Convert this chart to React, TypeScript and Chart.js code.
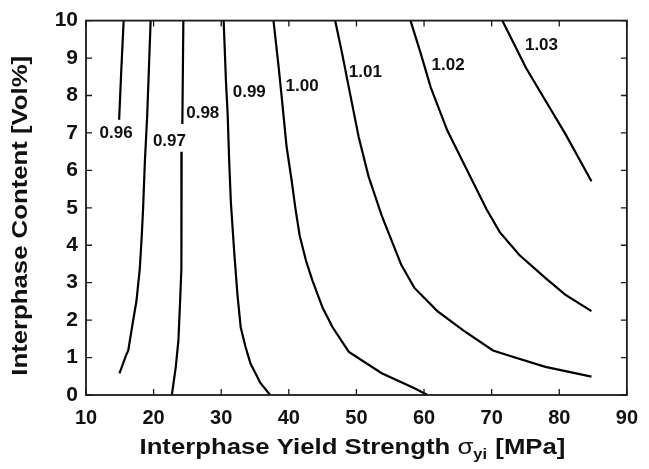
import React, { useEffect, useRef } from "react";
import { Chart, registerables } from "chart.js";

Chart.register(...registerables);

// ---- axis ticks ----
const X_TICKS = [10, 20, 30, 40, 50, 60, 70, 80, 90];
const Y_TICKS = [0, 1, 2, 3, 4, 5, 6, 7, 8, 9, 10];

// ---- contour levels and their labels ----
const LEVELS = ["0.96", "0.97", "0.98", "0.99", "1.00", "1.01", "1.02", "1.03"];
const LABEL_X = [14.46, 22.34, 27.27, 34.15, 41.97, 51.31, 63.55, 77.37];
const LABEL_Y = [6.99, 6.78, 7.52, 8.08, 8.25, 8.63, 8.8, 9.35];

// ---- contour lines (x = interphase yield strength, y = interphase content) ----
const c096x = [15.57, 15.2, 14.9];
const c096y = [10, 8.6, 7.35];

const c097x = [19.56, 19.06, 18.7, 18.45, 18.25, 17.96, 17.46, 16.88, 16.25, 15.92, 14.95];
const c097y = [10, 7.5, 6.2, 5.0, 4.26, 3.38, 2.51, 1.89, 1.19, 1.06, 0.58];

const c098x = [24.4, 24.25, null, 24.15, 24.15, 24.07, 23.92, 23.67, 23.28, 22.7];
const c098y = [10, 7.24, null, 6.5, 5.14, 3.38, 2.51, 1.46, 0.75, 0];

const c099x = [30.36, 30.7, 30.95, 31.19, 31.43, 31.92, 32.4, 32.88, 33.6, 34.33, 35.79, 37.24];
const c099y = [10, 8.38, 7.51, 6.19, 5.14, 3.82, 2.68, 1.81, 1.28, 0.84, 0.32, 0];

const c100x = [37.73, 38.46, 38.95, 39.67, 40.4, 41.0, 41.6, 42.58, 43.55, 45.0, 46.47, 48.88, 53.74, 58.58, 60.5];
const c100y = [10, 8.82, 7.95, 6.63, 5.75, 4.95, 4.26, 3.56, 3.03, 2.33, 1.81, 1.15, 0.58, 0.18, 0];

const c101x = [46.85, 47.92, 48.88, 50.33, 51.79, 53.74, 55.19, 56.65, 58.58, 61.97, 65.85, 70.2, 73.1, 77.95, 84.76];
const c101y = [10, 9.09, 8.21, 6.89, 5.84, 4.79, 4.13, 3.47, 2.86, 2.24, 1.72, 1.19, 1.02, 0.75, 0.49];

const c102x = [58.0, 59.56, 61.0, 63.43, 65.85, 69.24, 71.2, 74.1, 77.97, 80.88, 84.76];
const c102y = [10, 9.09, 8.21, 7.07, 6.19, 4.96, 4.35, 3.74, 3.12, 2.68, 2.24];

const c103x = [71.57, 73.13, 75.07, 77.97, 80.88, 84.76];
const c103y = [10, 9.44, 8.74, 7.86, 6.98, 5.71];

const CURVES: [(number | null)[], (number | null)[]][] = [
  [c096x, c096y],
  [c097x, c097y],
  [c098x, c098y],
  [c099x, c099y],
  [c100x, c100y],
  [c101x, c101y],
  [c102x, c102y],
  [c103x, c103y],
];

const X_TITLE_MAIN = "Interphase Yield Strength ";
const X_TITLE_SYM = "σ";
const X_TITLE_SUB = "yi";
const X_TITLE_END = " [MPa]";
const Y_TITLE = "Interphase Content [Vol%]";

const FONT_FAMILY = '"Liberation Sans", Arial, Helvetica, sans-serif';
const INK = "#111";

function segments(xs: (number | null)[], ys: (number | null)[]) {
  const out: { x: number; y: number }[][] = [];
  let cur: { x: number; y: number }[] = [];
  for (let i = 0; i < xs.length; i++) {
    const x = xs[i];
    const y = ys[i];
    if (x === null || y === null) {
      if (cur.length) out.push(cur);
      cur = [];
    } else {
      cur.push({ x, y });
    }
  }
  if (cur.length) out.push(cur);
  return out;
}

const decorPlugin = {
  id: "decor",
  afterDraw(chart: any) {
    const { ctx, chartArea: a, scales } = chart;
    const xs = scales.x;
    const ys = scales.y;
    ctx.save();
    // frame
    ctx.strokeStyle = "#1a1a1a";
    ctx.lineWidth = 1.8;
    ctx.strokeRect(a.left, a.top, a.right - a.left, a.bottom - a.top);
    // inward tick marks on all four sides
    ctx.lineWidth = 1.3;
    const tl = 6;
    ctx.beginPath();
    X_TICKS.forEach((v) => {
      const px = xs.getPixelForValue(v);
      ctx.moveTo(px, a.bottom);
      ctx.lineTo(px, a.bottom - tl);
      ctx.moveTo(px, a.top);
      ctx.lineTo(px, a.top + tl);
    });
    Y_TICKS.forEach((v) => {
      const py = ys.getPixelForValue(v);
      ctx.moveTo(a.left, py);
      ctx.lineTo(a.left + tl, py);
      ctx.moveTo(a.right, py);
      ctx.lineTo(a.right - tl, py);
    });
    ctx.stroke();

    // contour labels
    ctx.fillStyle = INK;
    ctx.font = `bold 17px ${FONT_FAMILY}`;
    ctx.textAlign = "center";
    ctx.textBaseline = "middle";
    LEVELS.forEach((t, i) => {
      ctx.fillText(t, xs.getPixelForValue(LABEL_X[i]), ys.getPixelForValue(LABEL_Y[i]));
    });

    // x-axis title with subscript
    const stretch = 1.17;
    const mainFont = `bold 22px ${FONT_FAMILY}`;
    const symFont = `22px ${FONT_FAMILY}`;
    const subFont = `bold 14px ${FONT_FAMILY}`;
    ctx.textAlign = "left";
    ctx.textBaseline = "alphabetic";
    ctx.font = mainFont;
    const w1 = ctx.measureText(X_TITLE_MAIN).width;
    const w4 = ctx.measureText(X_TITLE_END).width;
    ctx.font = symFont;
    const w2 = ctx.measureText(X_TITLE_SYM).width;
    ctx.font = subFont;
    const w3 = ctx.measureText(X_TITLE_SUB).width + 1;
    const total = w1 + w2 + w3 + w4;
    const cx = (a.left + a.right) / 2 - 4;
    ctx.save();
    ctx.translate(cx, 454);
    ctx.scale(stretch, 1);
    let x0 = -total / 2;
    ctx.font = mainFont;
    ctx.fillText(X_TITLE_MAIN, x0, 0);
    x0 += w1;
    ctx.font = symFont;
    ctx.fillText(X_TITLE_SYM, x0, 0);
    x0 += w2;
    ctx.font = subFont;
    ctx.fillText(X_TITLE_SUB, x0, 5);
    x0 += w3;
    ctx.font = mainFont;
    ctx.fillText(X_TITLE_END, x0, 0);
    ctx.restore();

    // y-axis title
    ctx.save();
    ctx.translate(26.5, (a.top + a.bottom) / 2 + 8);
    ctx.rotate(-Math.PI / 2);
    ctx.scale(stretch, 1);
    ctx.font = mainFont;
    ctx.textAlign = "center";
    ctx.fillText(Y_TITLE, 0, 0);
    ctx.restore();

    ctx.restore();
  },
};

export default function App() {
  const canvasRef = useRef<HTMLCanvasElement | null>(null);

  useEffect(() => {
    if (!canvasRef.current) return;
    const datasets: any[] = [];
    CURVES.forEach(([xs, ys], i) => {
      segments(xs, ys).forEach((seg) => {
        datasets.push({
          label: LEVELS[i],
          data: seg,
          showLine: true,
          borderColor: "#000",
          borderWidth: 2.2,
          pointRadius: 0,
          fill: false,
          tension: 0,
        });
      });
    });

    const xTickFont = { family: FONT_FAMILY, size: 20, weight: "bold" as const };
    const yTickFont = { family: FONT_FAMILY, size: 21, weight: "bold" as const };

    const chart = new Chart(canvasRef.current, {
      type: "scatter",
      data: { datasets },
      options: {
        animation: false,
        responsive: true,
        maintainAspectRatio: false,
        layout: { padding: { top: 15.5, right: 13, left: 0, bottom: 0 } },
        plugins: { legend: { display: false }, tooltip: { enabled: false } },
        scales: {
          x: {
            type: "linear",
            min: 10,
            max: 90,
            afterBuildTicks: (s: any) => {
              s.ticks = X_TICKS.map((v) => ({ value: v }));
            },
            grid: { display: false, drawTicks: false },
            border: { display: false },
            ticks: { font: xTickFont, color: INK, padding: 11, maxRotation: 0, autoSkip: false },
            afterFit: (s: any) => {
              s.height = 74;
            },
          },
          y: {
            type: "linear",
            min: 0,
            max: 10,
            afterBuildTicks: (s: any) => {
              s.ticks = Y_TICKS.map((v) => ({ value: v }));
            },
            grid: { display: false, drawTicks: false },
            border: { display: false },
            ticks: { font: yTickFont, color: INK, padding: 8, autoSkip: false },
            afterFit: (s: any) => {
              s.width = 86;
            },
          },
        },
      },
      plugins: [decorPlugin],
    });
    return () => chart.destroy();
  }, []);

  return (
    <div style={{ position: "fixed", left: 0, top: 0, width: 649, height: 469, background: "#fff" }}>
      <canvas ref={canvasRef} />
    </div>
  );
}
